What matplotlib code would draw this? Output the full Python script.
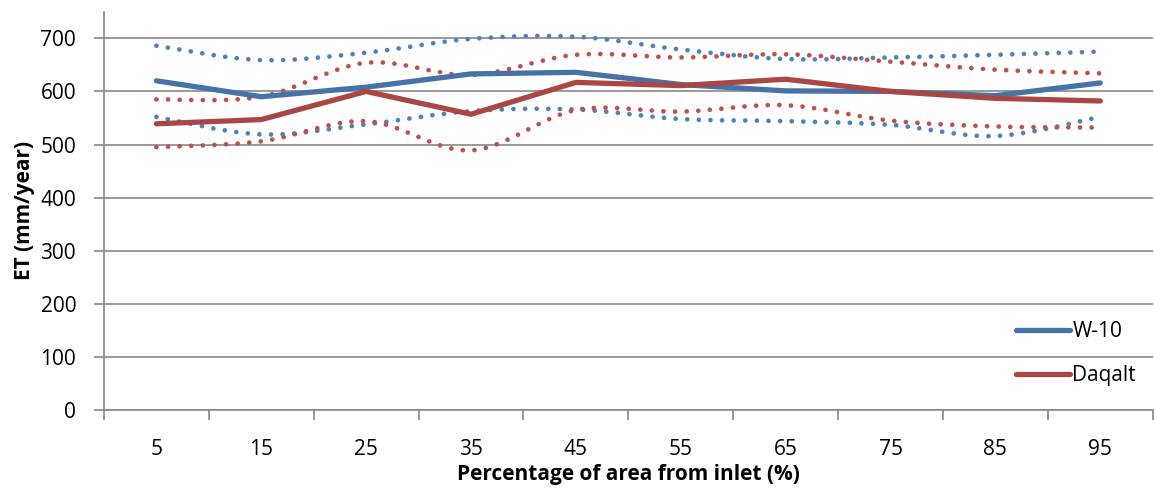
import numpy as np
import matplotlib.pyplot as plt
from matplotlib.path import Path
from matplotlib.patches import PathPatch

plt.rcParams['font.family'] = ['Open Sans', 'DejaVu Sans']

categories = ['5', '15', '25', '35', '45', '55', '65', '75', '85', '95']

w10 = [620, 590, 608, 633, 636, 613, 601, 600, 592, 616]
w10_upper = [686, 659, 673, 699, 703, 679, 661, 664, 669, 675]
w10_lower = [552, 519, 538, 563, 566, 548, 544, 537, 516, 552]

daqalt = [539, 547, 600, 557, 617, 611, 623, 600, 587, 582]
daqalt_upper = [585, 590, 654, 631, 669, 664, 670, 656, 641, 634]
daqalt_lower = [495, 506, 544, 489, 565, 562, 574, 545, 534, 532]

BLUE = '#4572A7'
RED = '#AA4643'
BLUE_DOT = '#4F81BD'
RED_DOT = '#C0504D'
GRID = '#888888'
FS = 15


def smooth_path(xs, ys):
    # bezier segments through the points, like Excel's smoothed line
    pts = np.column_stack([xs, ys]).astype(float)
    n = len(pts)
    verts = [pts[0]]
    codes = [Path.MOVETO]
    for i in range(n - 1):
        p0 = pts[i - 1] if i > 0 else pts[i]
        p1 = pts[i]
        p2 = pts[i + 1]
        p3 = pts[i + 2] if i + 2 < n else pts[i + 1]
        c1 = p1 + (p2 - p0) / 6.0
        c2 = p2 - (p3 - p1) / 6.0
        verts += [c1, c2, p2]
        codes += [Path.CURVE4] * 3
    return Path(verts, codes)


fig = plt.figure(figsize=(11.55, 4.91), dpi=100)
ax = fig.add_axes([0.090, 0.165, 0.908, 0.811])

x = np.arange(len(categories))

for ys, col in [(w10_upper, BLUE_DOT), (w10_lower, BLUE_DOT),
                (daqalt_upper, RED_DOT), (daqalt_lower, RED_DOT)]:
    patch = PathPatch(smooth_path(x, ys), fill=False, edgecolor=col,
                      linewidth=3.4, linestyle=(0, (0.01, 2.45)),
                      capstyle='round', zorder=3)
    ax.add_patch(patch)

ax.plot(x, w10, color=BLUE, linewidth=3.8, label='W-10', zorder=4,
        solid_capstyle='round')
ax.plot(x, daqalt, color=RED, linewidth=3.8, label='Daqalt', zorder=4,
        solid_capstyle='round')

ax.set_xlim(-0.5, len(categories) - 0.5)
ax.set_ylim(0, 750)
ax.set_yticks(np.arange(0, 701, 100))
ax.set_xticks(x)
ax.set_xticklabels(categories)
ax.set_xticks(np.arange(-0.5, len(categories), 1), minor=True)
ax.tick_params(axis='x', which='major', length=0, pad=21, labelsize=FS)
ax.tick_params(axis='x', which='minor', length=7, width=1.2, color=GRID)
ax.tick_params(axis='y', length=7, width=1.2, color=GRID, labelsize=FS, pad=13)

ax.grid(axis='y', color=GRID, linewidth=1.2, zorder=0)
ax.set_axisbelow(True)
for s in ['top', 'right']:
    ax.spines[s].set_visible(False)
for s in ['left', 'bottom']:
    ax.spines[s].set_color(GRID)
    ax.spines[s].set_linewidth(1.2)

ax.set_xlabel('Percentage of area from inlet (%)', fontsize=FS,
              fontweight='bold', labelpad=3)
ax.set_ylabel('ET (mm/year)', fontsize=FS, fontweight='bold', labelpad=4)

ax.legend(loc='center right', bbox_to_anchor=(0.984, 0.141), frameon=False,
          fontsize=FS, handlelength=2.6, handletextpad=0.1,
          labelspacing=1.1, borderaxespad=0, borderpad=0)

fig.savefig('out.png', dpi=100)
